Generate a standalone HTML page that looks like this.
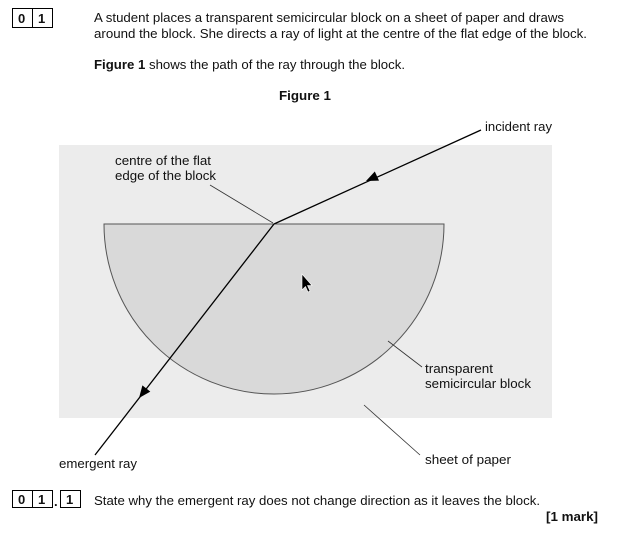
<!DOCTYPE html>
<html><head><meta charset="utf-8"><style>
body{margin:0;width:626px;height:533px;background:#fff;overflow:hidden;font-family:"Liberation Sans",Arial,sans-serif;}
svg{position:absolute;left:0;top:0}
</style></head><body>
<svg width="626" height="533" viewBox="0 0 626 533" font-family="Liberation Sans, Arial, sans-serif" font-size="13" fill="#111">
<rect x="12.5" y="8.5" width="40" height="19" fill="none" stroke="#000"/>
<line x1="32.5" y1="8.5" x2="32.5" y2="27.5" stroke="#000"/>
<text x="18" y="23" font-weight="bold">0</text><text x="38" y="23" font-weight="bold">1</text>
<text x="94" y="22" textLength="470" lengthAdjust="spacingAndGlyphs">A student places a transparent semicircular block on a sheet of paper and draws</text>
<text x="94" y="38" textLength="493" lengthAdjust="spacingAndGlyphs">around the block.  She directs a ray of light at the centre of the flat edge of the block.</text>
<text x="94" y="69" textLength="311" lengthAdjust="spacingAndGlyphs"><tspan font-weight="bold">Figure 1</tspan> shows the path of the ray through the block.</text>
<text x="279" y="100" font-weight="bold" textLength="52" lengthAdjust="spacingAndGlyphs">Figure 1</text>
<rect x="59" y="145" width="493" height="273" fill="#ececec"/>
<path d="M104 224 H444 A170 170 0 0 1 104 224 Z" fill="#d9d9d9" stroke="#555" stroke-width="1"/>
<line x1="481" y1="130" x2="274" y2="224" stroke="#000" stroke-width="1.3"/>
<line x1="274" y1="224" x2="95" y2="455" stroke="#000" stroke-width="1.3"/>
<polygon points="366,181 379,180.6 374.8,171.5" fill="#000"/>
<polygon points="139,398 150.3,391.6 142.4,385.4" fill="#000"/>
<line x1="210" y1="185" x2="273" y2="223" stroke="#333" stroke-width="0.8"/>
<line x1="388" y1="341" x2="422" y2="367" stroke="#333" stroke-width="0.8"/>
<line x1="364" y1="405" x2="420" y2="455" stroke="#333" stroke-width="0.8"/>
<path d="M302 274 L302 290 L305.5 286.5 L308 292 L310 291 L307.5 285.5 L312 285.5 Z" fill="#000" stroke="#fff" stroke-width="0.6"/>
<text x="485" y="131" textLength="67" lengthAdjust="spacingAndGlyphs">incident ray</text>
<text x="115" y="165" textLength="96" lengthAdjust="spacingAndGlyphs">centre of the flat</text>
<text x="115" y="180" textLength="101" lengthAdjust="spacingAndGlyphs">edge of the block</text>
<text x="425" y="373" textLength="68" lengthAdjust="spacingAndGlyphs">transparent</text>
<text x="425" y="388" textLength="106" lengthAdjust="spacingAndGlyphs">semicircular block</text>
<text x="425" y="464" textLength="86" lengthAdjust="spacingAndGlyphs">sheet of paper</text>
<text x="59" y="468" textLength="78" lengthAdjust="spacingAndGlyphs">emergent ray</text>
<rect x="12.5" y="490.5" width="40" height="17" fill="none" stroke="#000"/>
<line x1="32.5" y1="490.5" x2="32.5" y2="507.5" stroke="#000"/>
<text x="18" y="504" font-weight="bold">0</text><text x="38" y="504" font-weight="bold">1</text>
<text x="54" y="506" font-weight="bold">.</text>
<rect x="60.5" y="490.5" width="20" height="17" fill="none" stroke="#000"/>
<text x="66" y="504" font-weight="bold">1</text>
<text x="94" y="505" textLength="446" lengthAdjust="spacingAndGlyphs">State why the emergent ray does not change direction as it leaves the block.</text>
<text x="546" y="521" font-weight="bold" textLength="52" lengthAdjust="spacingAndGlyphs">[1 mark]</text>
</svg>
</body></html>
